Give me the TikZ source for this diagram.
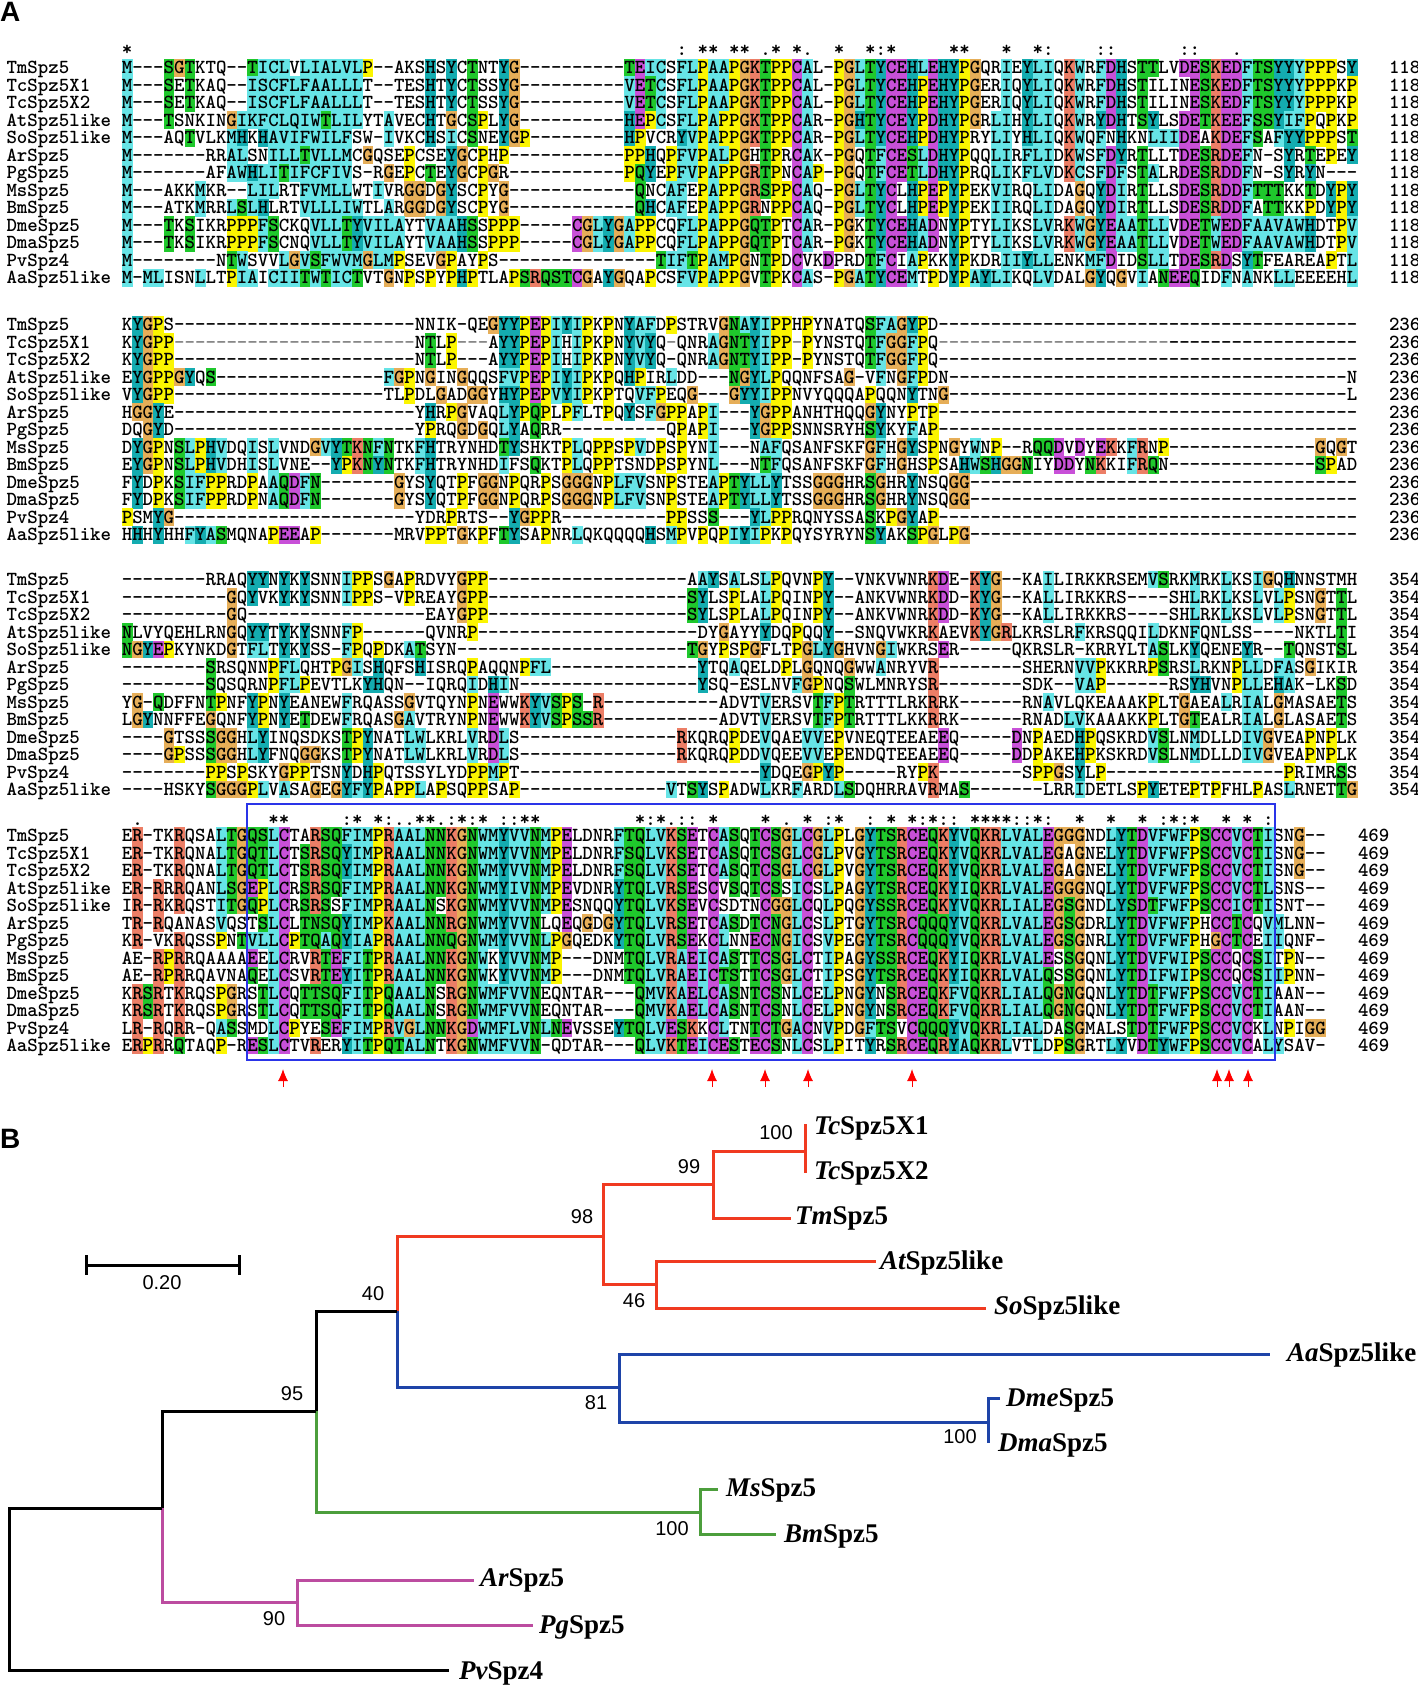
\documentclass[tikz,border=0pt]{standalone}
\usepackage{fontspec}
\usetikzlibrary{arrows.meta}
\newfontfamily\treef{Liberation Serif}
\newfontfamily\labf{Liberation Sans}
\definecolor{cy}{HTML}{66E4E6}
\definecolor{te}{HTML}{14ACB0}
\definecolor{gr}{HTML}{1FC82C}
\definecolor{mg}{HTML}{C850D8}
\definecolor{sa}{HTML}{EC7E66}
\definecolor{og}{HTML}{E6AE58}
\definecolor{ye}{HTML}{FBF500}
\definecolor{trred}{HTML}{F03A20}
\definecolor{trblue}{HTML}{1E44A8}
\definecolor{trgreen}{HTML}{4C9E3C}
\definecolor{trmag}{HTML}{BC4CA0}
\definecolor{boxblue}{HTML}{2A34E8}
\def\seqfont{\ttfamily\bfseries\fontsize{19.94}{20}\selectfont}
\makeatletter
\newcount\colc \newcount\cyanf
\newdimen\rowy \newdimen\xa \newdimen\xb \newdimen\ya \newdimen\yb
\def\setbg#1#2{\expandafter\def\csname bgc#1\endcsname{#2}}
\setbg{A}{cy}\setbg{I}{cy}\setbg{L}{cy}\setbg{M}{cy}\setbg{F}{cy}\setbg{W}{cy}\setbg{V}{cy}
\setbg{C}{mg}\setbg{D}{mg}\setbg{E}{mg}
\setbg{T}{gr}\setbg{S}{gr}\setbg{N}{gr}\setbg{Q}{gr}
\setbg{K}{sa}\setbg{R}{sa}\setbg{G}{og}\setbg{P}{ye}\setbg{H}{te}\setbg{Y}{te}
\def\Dd{----------}
\def\Gg{==========}
\def\chr#1{\hbox to 10.47pt{\hss\if=#1{\color{gray}-}\else\if/#1\else#1\fi\fi\hss}}
\def\addc#1{\expandafter\gdef\expandafter\seqacc\expandafter{\seqacc\chr{#1}}}
\def\procchar#1{%
  \ifnum\cyanf=1 \def\cc{cy}\else
    \ifcsname bgc#1\endcsname \edef\cc{\csname bgc#1\endcsname}\else \def\cc{}\fi
  \fi
  \ifx\cc\empty\else
    \xa=\dimexpr 10.47pt*\colc+121.8pt\relax
    \xb=\dimexpr\xa+10.7pt\relax
    \ya=\dimexpr-\rowy+8.85pt\relax
    \yb=\dimexpr-\rowy-8.85pt\relax
    \path[fill=\cc] (\the\xa,\the\ya) rectangle (\the\xb,\the\yb);
  \fi
  \addc{#1}%
}
\def\seqloop#1{%
  \ifx#1\relax \let\next\relax
  \else
    \if+#1\cyanf=1\relax
    \else
      \procchar{#1}\cyanf=0\relax \advance\colc by 1\relax
    \fi
    \let\next\seqloop
  \fi\next}
\def\numx{1389pt}
\def\seqrow#1#2#3{%
  \edef\rowdata{#2}\gdef\seqacc{}\colc=0\relax\cyanf=0\relax
  \expandafter\seqloop\rowdata\relax
  \uppercase\expandafter{\expandafter\gdef\expandafter\seqtxt\expandafter{\seqacc}}%
  \yb=\dimexpr-\rowy-6.1pt\relax
  \node[seqt] at (6.5pt,\the\yb) {#1};
  \node[seqt] at (121.8pt,\the\yb) {\seqtxt};
  \node[seqt] at (\numx,\the\yb) {#3};
  \advance\rowy by 17.5pt\relax
}
% one text per consensus line: #1 baseline, #2 tag, #3 list column/mark
\def\consrow#1#2#3{%
  \foreach \c/\m in {#3}{\expandafter\xdef\csname cm#2\c\endcsname{\m}}%
  \gdef\seqacc{}\colc=0\relax
  \loop\ifnum\colc<118
    \ifcsname cm#2\the\colc\endcsname
      \edef\tmpm{\csname cm#2\the\colc\endcsname}\expandafter\addc\expandafter{\tmpm}%
    \else
      \addc{/}%
    \fi
    \advance\colc by 1\relax
  \repeat
  \node[seqt] at (121.8,#1) {\seqacc};
}
\makeatother
\tikzset{
  seqt/.style={anchor=base west,inner sep=0pt,outer sep=0pt,font=\seqfont,text=black},
  black branch/.style={draw=black,line width=3pt},
  red branch/.style={draw=trred,line width=3pt},
  blue branch/.style={draw=trblue,line width=3pt},
  green branch/.style={draw=trgreen,line width=3pt},
  mag branch/.style={draw=trmag,line width=3pt},
  taxon/.style={anchor=west,inner sep=0pt,font=\treef\bfseries\fontsize{27}{28}\selectfont},
  boot/.style={inner sep=0pt,font=\labf\fontsize{20}{22}\selectfont},
  panel/.style={inner sep=0pt,anchor=west,font=\labf\bfseries\fontsize{28}{30}\selectfont},
  site/.style={draw=red,line width=1pt,-{Latex[length=12pt,width=10pt]}}
}
\begin{document}
\begin{tikzpicture}[x=1pt,y=-1pt]
\useasboundingbox (0,0) rectangle (1418,1686);
\fill[white] (0,0) rectangle (1418,1686);
\node[panel] (panelA) at (0,12) {A};
\node[panel] (panelB) at (0,1139) {B};

% ---- block 1
\consrow{55.5}{a}{0/*,53/:,55/*,56/*,58/*,59/*,61/.,62/*,64/*,65/.,68/*,71/*,72/:,73/*,79/*,80/*,84/*,87/*,88/:,93/:,94/:,101/:,102/:,106/.}
\rowy=67.7pt
\seqrow{TmSpz5}{M---SGTktq--TI+cLvLIALVLP--aksHsYcTntYG\Dd TEI+csFLPAAPGKTPPCAl-PGLTYCEHLEHYPGqrIeYLIqKWrFDHsTTlvDESKEDFTSYY+yPPPsY}{118}
\seqrow{TcSpz5X1}{M---SeTkaq--I+s+cFLFAALLLt--tesHtYcTssYG\Dd VET+csFLPAAPGKTPPCAl-PGLTYCEHPEHYPGerIqYLIqKWrFDHsTilinESKEDFTSYY+yPPPkP}{118}
\seqrow{TcSpz5X2}{M---SeTkaq--I+s+cFLFAALLLt--tesHtYcTssYG\Dd VET+csFLPAAPGKTPPCAl-PGLTYCEHPEHYPGerIqYLIqKWrFDHsTilinESKEDFTSYY+yPPPkP}{118}
\seqrow{AtSpz5like}{M---TsnkinGI+kF+cL+qIWTLILytAvecHtGcSPlYG\Dd HEP+csFLPAPPGKTPPCAr-PGHTYCEYPDHYPGrLIhYLIqKWrYDHtSYlsDETKEEFSSYIFPqPkP}{118}
\seqrow{SoSpz5like}{M---aqTvlkMHkHAVIFWILFsw-IvkcHsIcSneYGP---------HPvcrYVPAPPGKTPPCAr-PGLTYCEHPDHYPryLIyHLIqKWqFnHknLIIDEaKDEFSaFYYPPPsT}{118}
\seqrow{ArSpz5}{M-------rrALsnILLTVLLMcGqsePcseYGcPhP\Dd -PPHqPFVPALPGhTPrCAk-PGqT+fCESLDHYPqqLIrFLIdKWsFDYrTlltDESRDEFn-sYrTePeY}{118}
\seqrow{PgSpz5}{M-------afAWHLITIF+cFIVs-rGePcTeYGcPGr\Dd -PQYePFVPAPPGRTPnCAP-PGqT+fCETLDHYPrqLIkFLVdK+csFDFsTAlrDESRDDFn-sYrYn---}{118}
\seqrow{MsSpz5}{M---akkMkr--LILrtFVMLLwtIvrGGdGYscPyG\Dd --QncAFePAPPGRSPPCAq-PGLTYClHPEPYPekVIrqLIdaGqYDIrTllsDESRDDFTTTkkTdYPY}{118}
\seqrow{BmSpz5}{M---atkMrrLSLHlrtVLLLIWtlArGGdGYscPyG\Dd --QHcAFePAPPGRnPPCAq-PGLTYClHPEPYPekIIrqLIdaGqYDIrTllsDESRDDFaTTkkPdYPY}{118}
\seqrow{DmeSpz5}{M---TkSikrPPPFSckqVLLTYVILAytVAAHSsPPP-----CGLYGAPPcqFLPAPPGQTPtCAr-PGkTYCEHADnYPtyLIksLVrKWGYEAATLLvDETWEDFAAVAWHdtPV}{118}
\seqrow{DmaSpz5}{M---TkSikrPPPFScnqVLLTYVILAytVAAHSsPPP-----CGLYGAPPcqFLPAPPGQTPtCAr-PGkTYCEHADnYPtyLIksLVrKWGYEAATLLvDETWEDFAAVAWHdtPV}{118}
\seqrow{PvSpz4}{M--------nTWsvvLGVSFWVMGLMPsevGPayPs\Dd -----TIFTPAMPGnTPdCvkDprdTFCiAPkkYPkdrIIYLLenkMFDidSLLtDESRDsYTfeareaPtL}{118}
\seqrow{AaSpz5like}{M-MLisnLltPIAi+cIITWTI+cTvtGnPsPyPHPtlaPSRQSTCGaYGqaPcsFVPAPPGvTPkCAs-PGATYCEMtPdYP+aYLIkqLVdalGYqGvIaNEEQidFnAnkLLeeeehL}{118}

% ---- block 2
\rowy=324.7pt
\seqrow{TmSpz5}{kYGPs\Dd\Dd---nnik-qeGYYPEPIYIPkPnYAFdPstrvGNAYIPPhPynatqSFAGYPd\Dd\Dd\Dd\Dd}{236}
\seqrow{TcSpz5X1}{kYGPP\Gg\Gg===nTlP===aYYPEPIhIPkPnYVYq=qnrAGNTYIPP=PynstqTFGGFPq\Gg\Gg==\Dd --------}{236}
\seqrow{TcSpz5X2}{kYGPP\Dd\Dd---nTlP---aYYPEPIhIPkPnYVYq-qnrAGNTYIPP-PynstqTFGGFPq\Dd\Dd\Dd\Dd}{236}
\seqrow{AtSpz5like}{eYGPPGYqS\Dd------FGPnGinGqqsFVPEPIYIPkPqHPirLdd---NGYLPqqnfsaG-vFnGFPdn\Dd\Dd\Dd--------n}{236}
\seqrow{SoSpz5like}{vYGPP\Dd\Dd tlPdlGadGGyHYPEPVYIPkPtqVFPeqG---GYYIPPnvyqqqaPqqnYtnG\Dd\Dd\Dd--------l}{236}
\seqrow{ArSpz5}{hGGYe\Dd\Dd---yHrPGvaqLYPQPlPFltPqYsFGPPaPI---YGPPanhthqqGYnyPtP\Dd\Dd\Dd\Dd}{236}
\seqrow{PgSpz5}{dqGYd\Dd\Dd---yPrqGdGqLYaQrr\Dd qPaPI---YGPPsnnsryhSYkyFaP\Dd\Dd\Dd\Dd}{236}
\seqrow{MsSpz5}{dYGPnSLPHVdqIsLvndGVYTKNFNtkFHtrynhdTYshktPLqPPsPVdPsPynI---nAFqsanfskfGFhGYsPnGyWnP--rQQDvDyEKkFRnP\Dd----GqGt}{236}
\seqrow{BmSpz5}{eYGPnSLPHVdhIsLvne--YPKNYNtkFHtrynhdIfsQktPLqPPtsndPsPynL---nTFqsanfskfGFhGhsPsaHWSHGGNiyDDyNKkiFRQn\Dd----SPad}{236}
\seqrow{DmeSpz5}{fYdPkSIFPPrdPaAQDFN-------GysYqtPfGGnPqrPsGGGnPLFVsnPsteAPTYLLYtssGGGhrSGhrYnsqGG\Dd\Dd\Dd-------}{236}
\seqrow{DmaSpz5}{fYdPkSIFPPrdPnAQDFN-------GysYqtPfGGnPqrPsGGGnPLFVsnPsteAPTYLLYtssGGGhrSGhrYnsqGG\Dd\Dd\Dd-------}{236}
\seqrow{PvSpz4}{PsmYG\Dd\Dd---ydrPrts--YGPPr\Dd PPssS---YLPPrqnyssaSkPGYaP\Dd\Dd\Dd\Dd}{236}
\seqrow{AaSpz5like}{hHhYhhFYASmqnaPEEaP-------mrvPPtGkPfTYsaPnrLqkqqqqHsMPvPqPIYIPkPqysyrynSYakSPGlPG\Dd\Dd\Dd-------}{236}

% ---- block 3
\rowy=579.6pt
\seqrow{TmSpz5}{--------rraqYYnYkYsnnIPPsGaPrdvyGPP\Dd ---------aAYsAlsLPqvnPY--vnkvwnrKDe-KYG--kaIlirkkrsemVSrkMrkLksIGqHnnstmh}{354}
\seqrow{TcSpz5X1}{----------GqYvkYkYsnnIPPs-vPreayGPP\Dd ---------SYlsPlaLPqinPY--ankvwnrKDd-KYG--kaLlirkkrs----shLrkLksLvLPsnGtTl}{354}
\seqrow{TcSpz5X2}{----------Gq\Dd -------eayGPP\Dd ---------SYlsPlaLPqinPY--ankvwnrKDd-KYG--kaLlirkkrs----shLrkLksLvLPsnGtTl}{354}
\seqrow{AtSpz5like}{NlvyqehlrnGqYYtYkYsnnFP------qvnrP\Dd\Dd -dyGayyYdqPqqY--snqvwkrKaevKYGRlkrslrFkrsqqiLdknFqnlss----nktlTi}{354}
\seqrow{SoSpz5like}{NGYEPkynkdGtFLtYkYss-FPqPdkATsyn\Dd\Dd --TGyPsPGfltPGLYGhvnGIwkrsEr-----qkrslr-krryltASlkYqeneYr--TqnstSl}{354}
\seqrow{ArSpz5}{--------SrsqnnPFLqhtPGIsHqfsHisrqPaqqnPFL\Dd ----YtqAqeldPlGqnqGwwAnryvR--------shernVVPkkrrPSrsLrknPLLdFAsGikir}{354}
\seqrow{PgSpz5}{--------SqsqrnPFLPevtlkYHqn--iqrqIdHIn\Dd -------Ysq-eslnvFGPnqSwlmnrysR--------sdk--VAP------rsYHvnPLLeHAk-lkSd}{354}
\seqrow{MsSpz5}{yG-QdffnTPnfYPnYeanewFrqassGvtqynPnEwwKYVSPS-R\Dd -advtVersvTFPTrtttlrkRrk------rnAvlqkeaaakPltGaeaLrIAlGmasaeTs}{354}
\seqrow{BmSpz5}{lGYnnffeGqnfYPnYeTdewFrqasGAvtrynPnEwwKYVSPSSR\Dd -advtVersvTFPTrtttlkkRrk------rnadLVkaaakkPltGTealrIAlGlasaeTs}{354}
\seqrow{DmeSpz5}{----GtssSGGhLYinqsdksTPYnatLWlkrlVrDLs\Dd -----RkqrqPdeVqaeVVePvneqteeaeEq-----DnPaedHPqskrdVSlnMdlldIVGveaPnPlk}{354}
\seqrow{DmaSpz5}{----GPssSGGhLYfnqGGksTPYnatLWlkrlVrDLs\Dd -----RkqrqPddVqeeVVePendqteeaeEq-----DdPakeHPkskrdVSlnMdlldIVGveaPnPlk}{354}
\seqrow{PvSpz4}{--------PPsPskyGPPtsnYdHPqtssylydPPMPt\Dd\Dd ---YdqeGPYP-----ryPK--------sPPGsYlP\Dd -------PrimrSs}{354}
\seqrow{AaSpz5like}{----hskySGGGPLvAsaGeGYFYPaPPLaPsqPPsaP\Dd ----VtSYsPadwLkrFardLSdqhrravRmaS-------lrrIdetlsPYetePtPfhlPasLrnetTG}{354}

% ---- block 4
\consrow{825.5}{b}{1/.,14/*,15/*,21/:,22/*,24/*,25/:,26/.,27/.,28/*,29/*,30/.,31/:,32/*,33/:,34/*,36/:,37/:,38/*,39/*,49/*,50/:,51/*,52/.,53/:,54/:,56/*,61/*,63/.,65/*,67/:,68/*,71/:,73/*,75/*,76/:,77/*,78/:,79/:,81/*,82/*,83/*,84/*,85/:,86/:,87/*,88/:,91/*,94/*,97/*,99/:,100/*,101/:,102/*,105/*,107/*,109/:}
\def\numx{1358pt}
\rowy=835.5pt
\seqrow{TmSpz5}{eR-tkRqsaLTGQSLCtaRSQFIMPRAALNNKGNWMYVVNMPEldnrFTQLVKSEtCASqTCSGLCGLPlGYTSRCEQKYVQKRLVALEGGGndLYTDVFWFPSCCVCTIsnG--}{469}
\seqrow{TcSpz5X1}{eR-tkRqnaLTGQTLCtSRSQYIMPRAALNNKGNWMYVVNMPEldnrFSQLVKSEtCASqTCSGLCGLPvGYTSRCEQKYVQKRLVALEGaGneLYTDVFWFPSCCVCTIsnG--}{469}
\seqrow{TcSpz5X2}{eR-tkRqnaLTGQTLCtSRSQYIMPRAALNNKGNWMYVVNMPEldnrFSQLVKSEtCASqTCSGLCGLPvGYTSRCEQKYVQKRLVALEGaGneLYTDVFWFPSCCVCTIsnG--}{469}
\seqrow{AtSpz5like}{eR-RrRqanLSGEPLCrSRSQFIMPRAALNNKGNWMYIVNMPEvdnrYTQLVRSEsCvSqTCSsICsLPaGYTSRCEQKYIQKRLVALEGGGnqLYTDVFWFPSCCVCTLsns--}{469}
\seqrow{SoSpz5like}{iR-RkRqstITGQPLCrSRSsFIMPRAALNsKGNWMYVVNMPEsnqqYTQLVKSEvCsdtnCGGLCqLPqGYSSRCEQKYVQKRLIALEGSGndLYSDTFWFPSCCICTIsnt--}{469}
\seqrow{ArSpz5}{tR-RqanasVqstSLClTNSQYIMPKAALNNRGNWMYVVNlqEqGdGYTQLVRSEtCASdTCNGLCsLPtGYTSRCQQQYVQKRLVALEGSGdrLYTDVFWFPhCCTCqVMlnn-}{469}
\seqrow{PgSpz5}{kR-vkRqssPnTVLLCPTQAQYIAPRAALNNQGNWMYVVNLPGqedkYTQLVRSEkCLnnECNGICsVPeGYTSRCQQQYVQKRLVALEGSGnrLYTDVFWFPhGCTCeIIqnf-}{469}
\seqrow{MsSpz5}{ae-RPRrqaaaaEeLCrvRTEFITPRAALNNKGNWkYVVNMP---dnmTQLVRAEICAStTCSGLCtIPaGYSSRCEQKYIQKRLVALEsSGqnLYTDVFWIPSCCqCSItPn--}{469}
\seqrow{BmSpz5}{ae-RPRrqavnaQeLCsvRTEYITPRAALNNKGNWkYVVNMP---dnmTQLVRAEICTStTCSGLCtIPsGYTSRCEQKYIQKRLVALQsSGqnLYTDIFWIPSCCqCSIIPnn-}{469}
\seqrow{DmeSpz5}{kRSRtKrqsPGrsTLCqTTSQFITPQAALNsRGNWMFVVNeqntar---QMVKAELCASnTCSnLCeLPnGYnSRCEQKFVQKRLIALQGNGqnLYTDTFWFPSCCVCTIaan--}{469}
\seqrow{DmaSpz5}{kRSRtKrqsPGrsTLCqTTSQFITPQAALNsRGNWMFVVNeqntar---QMVKAELCASnTCSnLCeLPnGYnSRCEQKFVQKRLIALQGNGqnLYTDTFWFPSCCVCTIaan--}{469}
\seqrow{PvSpz4}{lR-RqRr-qASsmdLCPyeSEFIMPRVGLNNKGDWMFLVNLNEvsseYTQLVESKkCLtnTCTGACnVPdGFTSvCQQQYVQKRLIALdaSGmalsTDTFWFPSCCVCkLnPiGG}{469}
\seqrow{AaSpz5like}{eRPRrQtaqP-rESLCtvRerYITPQTALNtKGNWMFVVN-qdtar---QLVKTEICEStECSnLCsLPitYrSRCEQRYAQKRLvtLdPSGrtLYvDTYWFPSCCVCaL+ysav-}{469}

% ---- conserved domain box and cysteine arrows
\draw[boxblue,line width=2pt] (247,804) rectangle (1275,1060);
\foreach \ax in {283,712,765,808,912,1217,1229,1248}{
  \coordinate (tail\ax) at (\ax,1087);
  \coordinate (tip\ax) at (\ax,1069);
  \draw[site] (tail\ax) -- (tip\ax);
}

% ---- tree
\coordinate (nR) at (9,1670);
\coordinate (nA) at (162,1508);
\coordinate (nB) at (316,1411);
\coordinate (nC) at (297,1602);
\coordinate (nD) at (397,1311);
\coordinate (nE) at (700,1512);
\coordinate (nF) at (603,1236);
\coordinate (nG) at (619,1387);
\coordinate (nH) at (713,1184);
\coordinate (nI) at (656,1284);
\coordinate (nJ) at (805,1151);
\coordinate (nK) at (988,1422);
\coordinate (eX1) at (805,1124);
\coordinate (eX2) at (805,1173);
\coordinate (eTm) at (791,1218);
\coordinate (eAt) at (876,1261);
\coordinate (eSo) at (986,1308);
\coordinate (eAa) at (1270,1354);
\coordinate (eDme) at (1000,1398);
\coordinate (eDma) at (988,1443);
\coordinate (eMs) at (718,1489);
\coordinate (eBm) at (776,1534);
\coordinate (eAr) at (474,1580);
\coordinate (ePg) at (533,1625);
\coordinate (ePv) at (449,1670);

\path[green branch] (nB) |- (nE);
\path[mag branch] (nA) |- (nC);
\path[blue branch] (nD) |- (nG);
\path[red branch] (nD) |- (nF);
\path[black branch] (nA) -| (nR) -- (ePv);
\path[black branch] (nA) |- (nB);
\path[black branch] (nB) |- (nD);
\path[red branch] (nF) |- (nH);
\path[red branch] (nF) |- (nI);
\path[red branch] (nH) |- (nJ);
\path[red branch] (nH) |- (eTm);
\path[red branch] (eX1) -- (eX2);
\path[red branch] (nI) |- (eAt);
\path[red branch] (nI) |- (eSo);
\path[blue branch] (nG) |- (eAa);
\path[blue branch] (nG) |- (nK);
\path[blue branch] (nK) |- (eDme);
\path[blue branch] (nK) -- (eDma);
\path[green branch] (nE) |- (eMs);
\path[green branch] (nE) |- (eBm);
\path[mag branch] (nC) |- (eAr);
\path[mag branch] (nC) |- (ePg);

\newcommand\tax[1]{{\itshape #1}}
\node[taxon] (tX1) at (814,1128) {\tax{Tc}Spz5X1};
\node[taxon] (tX2) at (814,1173) {\tax{Tc}Spz5X2};
\node[taxon] (tTm) at (795,1218) {\tax{Tm}Spz5};
\node[taxon] (tAt) at (880,1263) {\tax{At}Spz5like};
\node[taxon] (tSo) at (994,1308) {\tax{So}Spz5like};
\node[taxon] (tAa) at (1287,1355) {\tax{Aa}Spz5like};
\node[taxon] (tDme) at (1006,1400) {\tax{Dme}Spz5};
\node[taxon] (tDma) at (998,1445) {\tax{Dma}Spz5};
\node[taxon] (tMs) at (726,1490) {\tax{Ms}Spz5};
\node[taxon] (tBm) at (784,1536) {\tax{Bm}Spz5};
\node[taxon] (tAr) at (480,1580) {\tax{Ar}Spz5};
\node[taxon] (tPg) at (539,1627) {\tax{Pg}Spz5};
\node[taxon] (tPv) at (459,1673) {\tax{Pv}Spz4};

\node[boot] (b1) at (776,1133) {100};
\node[boot] (b2) at (689,1167) {99};
\node[boot] (b3) at (582,1217) {98};
\node[boot] (b4) at (634,1301) {46};
\node[boot] (b5) at (373,1294) {40};
\node[boot] (b6) at (292,1394) {95};
\node[boot] (b7) at (596,1403) {81};
\node[boot] (b8) at (960,1437) {100};
\node[boot] (b9) at (672,1529) {100};
\node[boot] (b10) at (274,1619) {90};

\coordinate (sL) at (86,1265);
\coordinate (sR) at (239,1265);
\coordinate (sLt) at (86,1255);
\coordinate (sLb) at (86,1275);
\coordinate (sRt) at (239,1255);
\coordinate (sRb) at (239,1275);
\draw[line width=3pt] (sL) -- (sR);
\draw[line width=3pt] (sLt) -- (sLb);
\draw[line width=3pt] (sRt) -- (sRb);
\node[boot] (scale) at (162,1283) {0.20};
\end{tikzpicture}
\end{document}
